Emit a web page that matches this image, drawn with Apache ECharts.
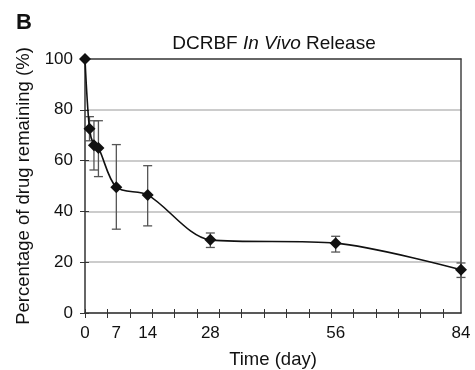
<!DOCTYPE html>
<html>
<head>
<meta charset="utf-8">
<script src="https://cdn.jsdelivr.net/npm/echarts@6/dist/echarts.min.js"></script>
<style>
  html, body { margin: 0; padding: 0; background: #fff; }
  #chart { width: 475px; height: 370px; }
</style>
</head>
<body>
<div id="chart"></div>
<script>
const days = [0, 1, 2, 3, 7, 14, 28, 56, 84]
const remaining = [100, 72.5, 66, 65, 49.5, 46.5, 28.8, 27.5, 17]
const errHigh = [null, 77.3, 75.7, 75.7, 66.3, 58, 31.5, 30.2, 19.7]
const errLow = [null, 67.8, 56.3, 53.7, 33, 34.3, 25.8, 24, 14]
const xTicks = [0, 5, 10, 15, 20, 25, 30, 35, 40, 45, 50, 55, 60, 65, 70, 75, 80]
const xLabels = [0, 7, 14, 28, 56, 84]

const font = 'Liberation Sans, Arial, sans-serif'
const chart = echarts.init(document.getElementById('chart'))

const lineData = days.map((d, i) => [d, remaining[i]])
const errData = days.map((d, i) => [d, errLow[i], errHigh[i]]).filter(r => r[1] != null)

const option = {
  animation: false,
  title: {
    text: 'DCRBF {i|In Vivo} Release',
    left: 269,
    textAlign: 'center',
    top: 29,
    textStyle: {
      fontFamily: font, fontSize: 19, fontWeight: 'normal', color: '#111',
      rich: { i: { fontFamily: font, fontSize: 19, fontStyle: 'italic', color: '#111' } }
    }
  },
  graphic: [{
    type: 'text', left: 16, top: 12,
    style: { text: 'B', font: 'bold 22px ' + font, fill: '#111' }
  }],
  grid: { left: 85, right: 14, top: 59, bottom: 57, outerBoundsMode: 'none' },
  xAxis: [{
    type: 'value', min: 0, max: 84,
    name: 'Time (day)', nameLocation: 'middle', nameGap: 37,
    nameTextStyle: { fontFamily: font, fontSize: 18.5, color: '#111' },
    axisLine: { lineStyle: { color: '#333', width: 1.5 } },
    axisTick: { show: true, length: 5, customValues: xTicks, lineStyle: { color: '#333' } },
    axisLabel: { customValues: xLabels, margin: 12, fontFamily: font, fontSize: 17, color: '#111' },
    splitLine: { show: false }
  }, {
    // inside half of the crossing ticks
    type: 'value', min: 0, max: 84, position: 'bottom',
    axisLine: { show: false },
    axisTick: { show: true, inside: true, length: 4, customValues: xTicks, lineStyle: { color: '#333' } },
    axisLabel: { show: false }, splitLine: { show: false }
  }, {
    // top frame
    type: 'value', min: 0, max: 84, position: 'top',
    axisLine: { show: true, onZero: false, lineStyle: { color: '#444', width: 1.5 } },
    axisTick: { show: false }, axisLabel: { show: false }, splitLine: { show: false }
  }],
  yAxis: [{
    type: 'value', min: 0, max: 100, interval: 20,
    name: 'Percentage of drug remaining (%)', nameLocation: 'middle', nameGap: 50,
    nameTextStyle: { fontFamily: font, fontSize: 18.5, color: '#111' },
    axisLine: { show: true, lineStyle: { color: '#333', width: 1.5 } },
    axisTick: { show: true, length: 5, lineStyle: { color: '#333' } },
    axisLabel: { margin: 12, fontFamily: font, fontSize: 17, color: '#111' },
    splitLine: { show: true, lineStyle: { color: '#bbb', width: 1.5 } }
  }, {
    type: 'value', min: 0, max: 100, interval: 20, position: 'left',
    axisLine: { show: false },
    axisTick: { show: true, inside: true, length: 4, lineStyle: { color: '#333' } },
    axisLabel: { show: false }, splitLine: { show: false }
  }, {
    // right frame
    type: 'value', min: 0, max: 100, position: 'right',
    axisLine: { show: true, onZero: false, lineStyle: { color: '#444', width: 1.5 } },
    axisTick: { show: false }, axisLabel: { show: false }, splitLine: { show: false }
  }],
  series: [{
    type: 'custom',
    name: 'error',
    data: errData,
    z: 2,
    renderItem: function (params, api) {
      const x = api.value(0)
      const lo = api.coord([x, api.value(1)])
      const hi = api.coord([x, api.value(2)])
      const w = 4.5
      const st = { stroke: '#555', lineWidth: 1.3 }
      return {
        type: 'group',
        children: [
          { type: 'line', shape: { x1: hi[0], y1: hi[1], x2: lo[0], y2: lo[1] }, style: st },
          { type: 'line', shape: { x1: hi[0] - w, y1: hi[1], x2: hi[0] + w, y2: hi[1] }, style: st },
          { type: 'line', shape: { x1: lo[0] - w, y1: lo[1], x2: lo[0] + w, y2: lo[1] }, style: st }
        ]
      }
    }
  }, {
    type: 'line',
    name: 'remaining',
    data: lineData,
    smooth: 0.3,
    z: 3,
    symbol: 'diamond',
    symbolSize: [12, 12],
    itemStyle: { color: '#111' },
    lineStyle: { color: '#111', width: 1.6 }
  }]
}
chart.setOption(option)
</script>
</body>
</html>
